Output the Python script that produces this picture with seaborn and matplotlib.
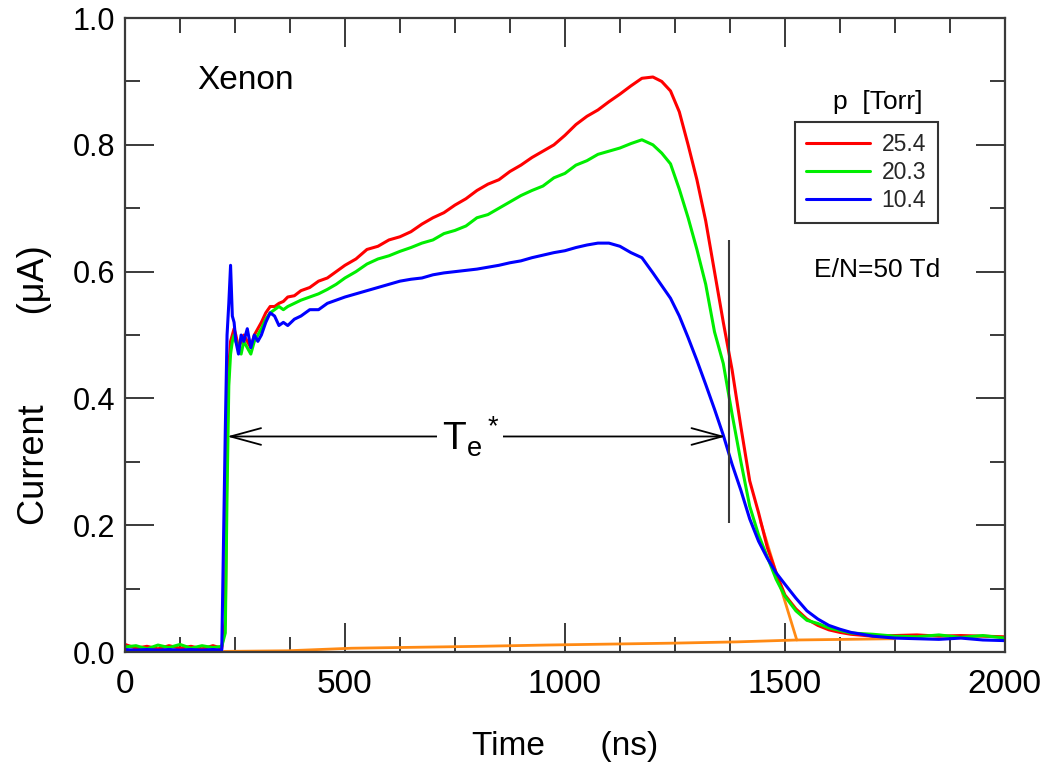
import matplotlib
matplotlib.use("Agg")
import matplotlib.pyplot as plt
import numpy as np
import pandas as pd
import seaborn as sns
from matplotlib.lines import Line2D
from matplotlib.ticker import MultipleLocator, FormatStrFormatter

# ---------------- data ----------------
time_ns = [0, 25, 50, 75, 100, 125, 150, 175, 200, 220,
           228, 232, 236, 240, 244, 248, 252, 258, 264, 270,
           278, 286, 294, 302, 310, 320, 330, 340, 350, 360,
           370, 385, 400, 420, 440, 460, 480, 500, 525, 550,
           575, 600, 625, 650, 675, 700, 725, 750, 775, 800,
           825, 850, 875, 900, 925, 950, 975, 1000, 1025, 1050,
           1075, 1100, 1125, 1150, 1175, 1200, 1220, 1240, 1260, 1280,
           1300, 1320, 1340, 1360, 1380, 1400, 1420, 1440, 1460, 1480,
           1500, 1525, 1550, 1575, 1600, 1625, 1650, 1700, 1750, 1800,
           1850, 1900, 1950, 2000]

current_25_4 = [0.012, 0.006, 0.009, 0.005, 0.010, 0.006, 0.009, 0.005, 0.010, 0.006,
                0.05, 0.33, 0.45, 0.49, 0.50, 0.51, 0.50, 0.48, 0.49, 0.50,
                0.49, 0.48, 0.50, 0.51, 0.52, 0.535, 0.545, 0.545, 0.55, 0.553,
                0.56, 0.562, 0.57, 0.575, 0.585, 0.59, 0.60, 0.61, 0.62, 0.635,
                0.64, 0.65, 0.655, 0.663, 0.675, 0.685, 0.693, 0.705, 0.715, 0.728,
                0.738, 0.745, 0.758, 0.768, 0.78, 0.79, 0.80, 0.815, 0.832, 0.845,
                0.855, 0.868, 0.88, 0.893, 0.905, 0.907, 0.90, 0.885, 0.852, 0.80,
                0.745, 0.68, 0.60, 0.52, 0.445, 0.355, 0.27, 0.22, 0.165, 0.125,
                0.09, 0.068, 0.052, 0.042, 0.035, 0.031, 0.028, 0.025, 0.026, 0.027,
                0.025, 0.026, 0.025, 0.024]

current_20_3 = [0.008, 0.010, 0.005, 0.011, 0.007, 0.012, 0.006, 0.010, 0.007, 0.009,
                0.03, 0.25, 0.42, 0.47, 0.49, 0.50, 0.49, 0.48, 0.47, 0.49,
                0.48, 0.47, 0.49, 0.50, 0.51, 0.525, 0.535, 0.54, 0.545, 0.54,
                0.545, 0.55, 0.555, 0.56, 0.565, 0.572, 0.58, 0.59, 0.60, 0.612,
                0.62, 0.625, 0.632, 0.638, 0.645, 0.65, 0.66, 0.665, 0.672, 0.685,
                0.69, 0.70, 0.71, 0.72, 0.728, 0.735, 0.748, 0.755, 0.768, 0.775,
                0.785, 0.79, 0.795, 0.802, 0.808, 0.80, 0.787, 0.77, 0.73, 0.685,
                0.635, 0.58, 0.505, 0.455, 0.375, 0.30, 0.23, 0.185, 0.15, 0.115,
                0.088, 0.065, 0.05, 0.045, 0.038, 0.034, 0.030, 0.028, 0.025, 0.024,
                0.027, 0.023, 0.026, 0.022]

current_10_4 = [0.004, 0.003, 0.004, 0.003, 0.004, 0.003, 0.004, 0.003, 0.004, 0.003,
                0.35, 0.50, 0.55, 0.61, 0.53, 0.52, 0.49, 0.47, 0.50, 0.49,
                0.51, 0.48, 0.50, 0.49, 0.50, 0.52, 0.535, 0.53, 0.515, 0.52,
                0.515, 0.525, 0.53, 0.54, 0.54, 0.55, 0.555, 0.56, 0.565, 0.57,
                0.575, 0.58, 0.585, 0.588, 0.59, 0.595, 0.598, 0.60, 0.602, 0.604,
                0.607, 0.61, 0.614, 0.617, 0.622, 0.626, 0.63, 0.633, 0.638, 0.642,
                0.645, 0.645, 0.64, 0.63, 0.622, 0.598, 0.578, 0.558, 0.53, 0.496,
                0.46, 0.422, 0.383, 0.342, 0.296, 0.255, 0.21, 0.175, 0.148, 0.125,
                0.107, 0.085, 0.065, 0.052, 0.042, 0.036, 0.031, 0.025, 0.022, 0.021,
                0.020, 0.022, 0.019, 0.018]

pressures = ["25.4", "20.3", "10.4"]
colors = ["#FF0000", "#00EE00", "#0000FF"]

# orange construction lines (baseline and tail tangent)
baseline_t = [225, 370, 515, 660, 805, 955, 1100, 1245, 1390, 1527, 1750]
baseline_v = [0.001, 0.002, 0.006, 0.0075, 0.009, 0.011, 0.0125, 0.014, 0.016, 0.019, 0.021]
tangent_t = [1445, 1527]
tangent_v = [0.205, 0.019]

# T_e* marker
te_start, te_end, te_level = 232, 1365, 0.34
vline_t, vline_lo, vline_hi = 1373, 0.203, 0.65

# ---------------- build frame ----------------
frames = []
for p, vals in zip(pressures, [current_25_4, current_20_3, current_10_4]):
    frames.append(pd.DataFrame({"time": time_ns, "current": vals, "p": p}))
df = pd.concat(frames, ignore_index=True)

sns.set_theme(style="ticks")
plt.rcParams["font.family"] = ["Liberation Sans", "DejaVu Sans"]
plt.rcParams["mathtext.fontset"] = "custom"
plt.rcParams["mathtext.rm"] = "Liberation Sans"
plt.rcParams["mathtext.it"] = "Liberation Sans"

fig = plt.figure(figsize=(10.45, 7.68), dpi=100)
ax = fig.add_axes([0.1196, 0.151, 0.842, 0.8255])

orange = "#FF8A14"
sns.lineplot(x=baseline_t, y=baseline_v, ax=ax, color=orange, lw=2.0,
             sort=False, estimator=None, zorder=1)
sns.lineplot(x=tangent_t, y=tangent_v, ax=ax, color=orange, lw=2.0,
             sort=False, estimator=None, zorder=1)

sns.lineplot(data=df, x="time", y="current", hue="p", hue_order=pressures,
             palette=colors, ax=ax, lw=2.2, sort=False, estimator=None,
             legend=False, zorder=2)

ax.set_xlim(0, 2000)
ax.set_ylim(0, 1.0)
ax.xaxis.set_major_locator(MultipleLocator(500))
ax.xaxis.set_minor_locator(MultipleLocator(125))
ax.yaxis.set_major_locator(MultipleLocator(0.2))
ax.yaxis.set_minor_locator(MultipleLocator(0.1))
ax.yaxis.set_major_formatter(FormatStrFormatter("%.1f"))

spine_c = "#3a3a3a"
for s in ax.spines.values():
    s.set_visible(True)
    s.set_color(spine_c)
    s.set_linewidth(1.6)
ax.tick_params(which="both", direction="in", top=True, right=True,
               color=spine_c, width=1.4, labelcolor="black")
ax.tick_params(axis="x", labelsize=24, pad=12)
ax.tick_params(axis="y", labelsize=22, pad=7)
ax.tick_params(which="major", length=21)
ax.tick_params(which="minor", length=10.5)

ax.set_xlabel("Time      (ns)", fontsize=24, color="black")
ax.set_ylabel("Current         (\u03bcA)", fontsize=26, color="black")
ax.xaxis.set_label_coords(0.5, -0.125)
ax.yaxis.set_label_coords(-0.083, 0.421)

# annotations
ax.vlines(vline_t, vline_lo, vline_hi, color=spine_c, lw=1.5, zorder=3)
ax.annotate("", xy=(te_start, te_level), xytext=(te_end, te_level),
            arrowprops=dict(arrowstyle="<->,head_length=1.1,head_width=0.3",
                            mutation_scale=20, color="black", lw=1.3,
                            shrinkA=0, shrinkB=0), zorder=4)
ax.text(785, te_level, r"$\mathregular{T_e{}^*}$", fontsize=28, ha="center",
        va="center", color="black", zorder=5,
        bbox=dict(facecolor="white", edgecolor="none", pad=3))

ax.text(164, 0.902, "Xenon", fontsize=24, ha="left", va="center", color="black")
ax.text(1709, 0.603, "E/N=50 Td", fontsize=19, ha="center", va="center", color="black")
ax.text(1712, 0.868, "p  [Torr]", fontsize=19, ha="center", va="center", color="black")

handles = [Line2D([0], [0], color=c, lw=2.2) for c in colors]
leg = ax.legend(handles, pressures, loc="upper left", bbox_to_anchor=(0.761, 0.836),
                fontsize=16.5, frameon=True, fancybox=False, framealpha=1,
                edgecolor="#333333", handlelength=2.8, handletextpad=0.5,
                labelspacing=0.2, borderpad=0.5, borderaxespad=0)
leg.get_frame().set_linewidth(1.5)

fig.savefig("out.png", dpi=100)
